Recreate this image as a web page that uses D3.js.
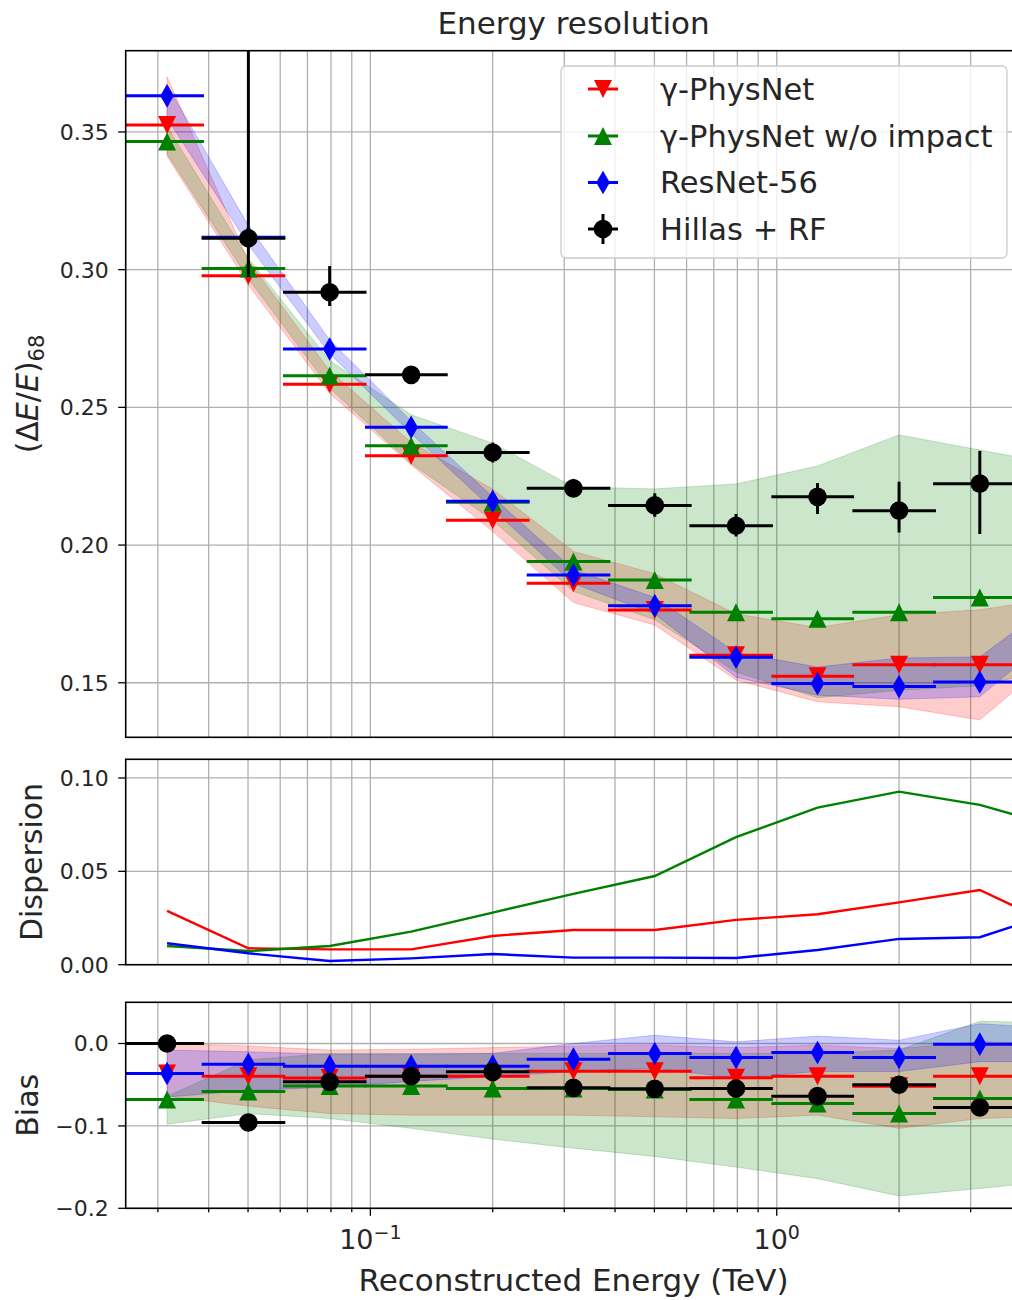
<!DOCTYPE html>
<html><head><meta charset="utf-8">
<script src="https://cdn.jsdelivr.net/npm/d3@7"></script>
<style>body{margin:0;background:#fff;} svg{display:block;font-family:"DejaVu Sans",sans-serif;}</style>
</head><body><svg id="c" width="1012" height="1300"></svg>
<script>
// ---------- data ----------
const energy  = [0.0316, 0.0501, 0.0794, 0.126, 0.2, 0.316, 0.501, 0.794, 1.26, 2.0, 3.16, 5.01];
const binLow  = [0.0251, 0.0398, 0.0631, 0.1, 0.158, 0.251, 0.398, 0.631, 1.0, 1.58, 2.51, 3.98];
const binHigh = [0.0398, 0.0631, 0.1, 0.158, 0.251, 0.398, 0.631, 1.0, 1.58, 2.51, 3.98, 6.31];

const seriesNames = ["γ-PhysNet", "γ-PhysNet w/o impact", "ResNet-56", "Hillas + RF"];

// resolution (ΔE/E)68
const resPhys   = [0.3525, 0.2978, 0.2584, 0.2324, 0.209, 0.1861, 0.1764, 0.160, 0.1524, 0.1565, 0.1565, null];
const resNoImp  = [0.3465, 0.3004, 0.2615, 0.2361, 0.2155, 0.194, 0.1873, 0.1756, 0.1732, 0.1756, 0.181, null];
const resResNet = [0.3631, 0.3118, 0.2712, 0.2428, 0.2159, 0.1891, 0.178, 0.1593, 0.1497, 0.1486, 0.1503, null];
const resHillas   = [null, 0.3114, 0.2918, 0.2618, 0.2336, 0.2206, 0.2144, 0.207, 0.2175, 0.2125, 0.2223, null];
const resHillasHi = [null, 0.40, 0.3013, 0.265, 0.2372, 0.224, 0.2188, 0.2113, 0.2225, 0.223, 0.2342, null];
const resHillasLo = [null, 0.2973, 0.2868, 0.259, 0.230, 0.2175, 0.2103, 0.2031, 0.2113, 0.2046, 0.204, null];

// resolution bands
const resPhysHi   = [0.370, 0.3032, 0.2633, 0.2373, 0.2203, 0.1977, 0.1896, 0.175, 0.1701, 0.1747, 0.1765, 0.181];
const resPhysLo   = [0.3412, 0.2944, 0.2551, 0.2291, 0.2049, 0.1791, 0.171, 0.151, 0.1431, 0.1413, 0.1365, 0.1613];
const resNoImpHi  = [0.352, 0.304, 0.267, 0.2473, 0.237, 0.2211, 0.2204, 0.2222, 0.2287, 0.240, 0.2345, 0.229];
const resNoImpLo  = [0.342, 0.2967, 0.257, 0.2296, 0.209, 0.1832, 0.1729, 0.1539, 0.1446, 0.1473, 0.1489, 0.1557];
const resResNetHi = [0.367, 0.316, 0.2745, 0.245, 0.2175, 0.191, 0.181, 0.161, 0.1557, 0.159, 0.1594, 0.1812];
const resResNetLo = [0.355, 0.309, 0.2695, 0.2405, 0.213, 0.186, 0.175, 0.152, 0.1455, 0.144, 0.1449, 0.1695];

// dispersion
const dispPhys   = [0.0288, 0.0088, 0.0082, 0.0082, 0.0154, 0.0186, 0.0186, 0.024, 0.027, 0.0334, 0.040, 0.0196];
const dispNoImp  = [0.010, 0.0073, 0.010, 0.0177, 0.0279, 0.0379, 0.0475, 0.0683, 0.0841, 0.0927, 0.0856, 0.0733];
const dispResNet = [0.0115, 0.0061, 0.002, 0.0034, 0.0057, 0.0038, 0.0038, 0.0036, 0.0079, 0.0138, 0.0147, 0.029];

// bias
const biasPhys   = [-0.0364, -0.0396, -0.042, -0.0396, -0.0396, -0.0336, -0.0336, -0.0416, -0.0396, -0.052, -0.0396, null];
const biasNoImp  = [-0.0679, -0.0582, -0.0517, -0.0517, -0.0546, -0.0546, -0.0558, -0.0679, -0.0727, -0.0848, -0.0667, null];
const biasResNet = [-0.0364, -0.0251, -0.0275, -0.0275, -0.0275, -0.019, -0.0121, -0.017, -0.0109, -0.017, -0.0008, null];
const biasHillas = [0.0, -0.0958, -0.0465, -0.0396, -0.0344, -0.0538, -0.055, -0.0546, -0.0639, -0.050, -0.0776, null];

const biasPhysHi   = [0.000, -0.003, -0.008, -0.007, -0.005, -0.003, -0.002, -0.005, -0.002, -0.006, 0.002, 0.000];
const biasPhysLo   = [-0.064, -0.076, -0.085, -0.087, -0.087, -0.087, -0.089, -0.091, -0.087, -0.103, -0.091, -0.088];
const biasNoImpHi  = [-0.064, -0.020, -0.012, -0.012, -0.012, -0.012, -0.012, -0.012, -0.012, -0.008, 0.027, 0.025];
const biasNoImpLo  = [-0.098, -0.085, -0.091, -0.103, -0.116, -0.127, -0.137, -0.150, -0.164, -0.185, -0.176, -0.166];
const biasResNetHi = [-0.008, -0.010, -0.013, -0.013, -0.012, 0.000, 0.010, 0.002, 0.009, 0.004, 0.024, 0.018];
const biasResNetLo = [-0.065, -0.057, -0.053, -0.046, -0.040, -0.034, -0.030, -0.042, -0.034, -0.034, -0.022, -0.022];

// ticks
const xDomain = [0.025, 4];
const xMajorTicks = [0.1, 1];
const xMajorExp = ["−1", "0"];
const resTicks = [0.15, 0.20, 0.25, 0.30, 0.35];
const resTickLabels = ["0.15", "0.20", "0.25", "0.30", "0.35"];
const dispTicks = [0.0, 0.05, 0.10];
const dispTickLabels = ["0.00", "0.05", "0.10"];
const biasTicks = [-0.2, -0.1, 0.0];
const biasTickLabels = ["−0.2", "−0.1", "0.0"];

// ---------- drawing ----------
const svg = d3.select("#c");
const X0 = 125.7, X1 = 1021.4;
const x = d3.scaleLog().domain(xDomain).range([X0, X1]);
const colors = ["#ff0000", "#008000", "#0000ff", "#000000"];
const markers = ["tridown", "triup", "thindiamond", "circle"];

const panels = {
  res:  {top: 50.7, bottom: 737.3, y: d3.scaleLinear().domain([0.1302, 0.3795]).range([737.3, 50.7])},
  disp: {top: 759.3, bottom: 964.7, y: d3.scaleLinear().domain([0, 0.110]).range([964.7, 759.3])},
  bias: {top: 1002.3, bottom: 1208.3, y: d3.scaleLinear().domain([-0.2, 0.05]).range([1208.3, 1002.3])}
};

const defs = svg.append("defs");
Object.entries(panels).forEach(([k, p]) => {
  defs.append("clipPath").attr("id", "clip-" + k).append("rect")
    .attr("x", X0).attr("y", p.top).attr("width", X1 - X0).attr("height", p.bottom - p.top);
});

function markerPath(type, cx, cy) {
  const p = d3.path();
  if (type === "tridown") {
    p.moveTo(cx - 9, cy - 9); p.lineTo(cx + 9, cy - 9); p.lineTo(cx, cy + 9); p.closePath();
  } else if (type === "triup") {
    p.moveTo(cx - 9, cy + 9); p.lineTo(cx + 9, cy + 9); p.lineTo(cx, cy - 9); p.closePath();
  } else if (type === "thindiamond") {
    p.moveTo(cx, cy - 11.8); p.lineTo(cx + 6.8, cy); p.lineTo(cx, cy + 11.8); p.lineTo(cx - 6.8, cy); p.closePath();
  } else {
    p.arc(cx, cy, 9.3, 0, 2 * Math.PI);
  }
  return p.toString();
}

function drawFrame(p, ticks, labels) {
  const g = svg.append("g");
  g.selectAll(".vg").data(x.ticks()).join("line")
    .attr("x1", d => x(d)).attr("x2", d => x(d))
    .attr("y1", p.top).attr("y2", p.bottom)
    .attr("stroke", "#b0b0b0").attr("stroke-width", 1.3);
  g.selectAll(".hg").data(ticks).join("line")
    .attr("x1", X0).attr("x2", X1)
    .attr("y1", d => p.y(d)).attr("y2", d => p.y(d))
    .attr("stroke", "#b0b0b0").attr("stroke-width", 1.3);
  g.selectAll(".yt").data(ticks).join("line")
    .attr("x1", X0 - 7.5).attr("x2", X0)
    .attr("y1", d => p.y(d)).attr("y2", d => p.y(d))
    .attr("stroke", "#000").attr("stroke-width", 1.3);
  g.selectAll(".yl").data(ticks).join("text")
    .attr("x", X0 - 17).attr("y", d => p.y(d))
    .attr("dy", "0.36em").attr("text-anchor", "end")
    .attr("font-size", 22).attr("fill", "#262626")
    .text((d, i) => labels[i]);
  return g;
}

function drawBorder(p) {
  svg.append("rect").attr("x", X0).attr("y", p.top)
    .attr("width", X1 - X0).attr("height", p.bottom - p.top)
    .attr("fill", "none").attr("stroke", "#000").attr("stroke-width", 1.6);
}

function drawBand(p, clipId, lo, hi, color) {
  const area = d3.area()
    .defined((d, i) => lo[i] != null && hi[i] != null)
    .x((d, i) => x(energy[i]))
    .y0((d, i) => p.y(lo[i]))
    .y1((d, i) => p.y(hi[i]));
  svg.append("path").datum(energy)
    .attr("clip-path", `url(#${clipId})`)
    .attr("d", area)
    .attr("fill", color).attr("fill-opacity", 0.2)
    .attr("stroke", color).attr("stroke-opacity", 0.2).attr("stroke-width", 1);
}

function drawErrSeries(p, clipId, vals, color, marker, hiArr, loArr) {
  const g = svg.append("g").attr("clip-path", `url(#${clipId})`);
  const idx = energy.map((e, i) => i).filter(i => vals[i] != null);
  g.selectAll(".xe").data(idx).join("line")
    .attr("x1", i => x(energy[i] - (binHigh[i] - binLow[i]) / 2))
    .attr("x2", i => x(energy[i] + (binHigh[i] - binLow[i]) / 2))
    .attr("y1", i => p.y(vals[i])).attr("y2", i => p.y(vals[i]))
    .attr("stroke", color).attr("stroke-width", 3);
  if (hiArr) {
    g.selectAll(".ye").data(idx).join("line")
      .attr("x1", i => x(energy[i])).attr("x2", i => x(energy[i]))
      .attr("y1", i => p.y(loArr[i])).attr("y2", i => p.y(hiArr[i]))
      .attr("stroke", color).attr("stroke-width", 3);
  }
  g.selectAll(".mk").data(idx).join("path")
    .attr("d", i => markerPath(marker, x(energy[i]), p.y(vals[i])))
    .attr("fill", color);
}

function drawLine(p, clipId, vals, color) {
  const line = d3.line()
    .defined((d, i) => vals[i] != null)
    .x((d, i) => x(energy[i])).y((d, i) => p.y(vals[i]));
  svg.append("path").datum(energy)
    .attr("clip-path", `url(#${clipId})`)
    .attr("d", line).attr("fill", "none")
    .attr("stroke", color).attr("stroke-width", 2.4);
}

// ---- top panel ----
const P1 = panels.res;
drawFrame(P1, resTicks, resTickLabels);
drawBand(P1, "clip-res", resPhysLo, resPhysHi, colors[0]);
drawBand(P1, "clip-res", resNoImpLo, resNoImpHi, colors[1]);
drawBand(P1, "clip-res", resResNetLo, resResNetHi, colors[2]);
drawErrSeries(P1, "clip-res", resPhys, colors[0], markers[0]);
drawErrSeries(P1, "clip-res", resNoImp, colors[1], markers[1]);
drawErrSeries(P1, "clip-res", resResNet, colors[2], markers[2]);
drawErrSeries(P1, "clip-res", resHillas, colors[3], markers[3], resHillasHi, resHillasLo);
drawBorder(P1);

// ---- dispersion panel ----
const P2 = panels.disp;
drawFrame(P2, dispTicks, dispTickLabels);
drawLine(P2, "clip-disp", dispPhys, colors[0]);
drawLine(P2, "clip-disp", dispNoImp, colors[1]);
drawLine(P2, "clip-disp", dispResNet, colors[2]);
drawBorder(P2);

// ---- bias panel ----
const P3 = panels.bias;
drawFrame(P3, biasTicks, biasTickLabels);
drawBand(P3, "clip-bias", biasPhysLo, biasPhysHi, colors[0]);
drawBand(P3, "clip-bias", biasNoImpLo, biasNoImpHi, colors[1]);
drawBand(P3, "clip-bias", biasResNetLo, biasResNetHi, colors[2]);
drawErrSeries(P3, "clip-bias", biasPhys, colors[0], markers[0]);
drawErrSeries(P3, "clip-bias", biasNoImp, colors[1], markers[1]);
drawErrSeries(P3, "clip-bias", biasResNet, colors[2], markers[2]);
drawErrSeries(P3, "clip-bias", biasHillas, colors[3], markers[3]);
drawBorder(P3);

// x ticks (bottom panel only)
const xt = svg.append("g");
xt.selectAll(".mt").data(x.ticks()).join("line")
  .attr("x1", d => x(d)).attr("x2", d => x(d))
  .attr("y1", P3.bottom).attr("y2", d => P3.bottom + (xMajorTicks.includes(d) ? 7.5 : 4))
  .attr("stroke", "#000").attr("stroke-width", 1.3);
xMajorTicks.forEach((v, i) => {
  const t = xt.append("text").attr("x", x(v)).attr("y", 1249)
    .attr("text-anchor", "middle").attr("font-size", 27).attr("fill", "#262626");
  t.append("tspan").text("10");
  t.append("tspan").attr("font-size", 19).attr("dy", -10).text(xMajorExp[i]);
});

// titles / labels
const cx = (X0 + X1) / 2;
svg.append("text").attr("x", cx).attr("y", 34).attr("text-anchor", "middle")
  .attr("font-size", 31).attr("fill", "#262626").text("Energy resolution");
svg.append("text").attr("x", cx).attr("y", 1291).attr("text-anchor", "middle")
  .attr("font-size", 31).attr("fill", "#262626").text("Reconstructed Energy (TeV)");

function yLabel(xb, yc) {
  return svg.append("text").attr("transform", `translate(${xb},${yc}) rotate(-90)`)
    .attr("text-anchor", "middle").attr("font-size", 30).attr("fill", "#262626");
}
const yl1 = yLabel(38, (P1.top + P1.bottom) / 2);
yl1.append("tspan").text("(Δ");
yl1.append("tspan").attr("font-style", "italic").text("E");
yl1.append("tspan").text("/");
yl1.append("tspan").attr("font-style", "italic").text("E");
yl1.append("tspan").text(")");
yl1.append("tspan").attr("font-size", 21).attr("dy", 6).text("68");
yLabel(42, (P2.top + P2.bottom) / 2).text("Dispersion");
yLabel(37.5, (P3.top + P3.bottom) / 2).text("Bias");

// legend
const lg = svg.append("g");
lg.append("rect").attr("x", 561).attr("y", 66).attr("width", 446).attr("height", 192)
  .attr("rx", 5).attr("fill", "#fff").attr("fill-opacity", 0.8)
  .attr("stroke", "#cccccc").attr("stroke-width", 1.3);
const rowY = [89, 136, 182.5, 229];
seriesNames.forEach((name, i) => {
  const yy = rowY[i];
  lg.append("line").attr("x1", 588).attr("x2", 618).attr("y1", yy).attr("y2", yy)
    .attr("stroke", colors[i]).attr("stroke-width", 3);
  if (i === 3) {
    lg.append("line").attr("x1", 603).attr("x2", 603).attr("y1", yy - 15).attr("y2", yy + 15)
      .attr("stroke", colors[i]).attr("stroke-width", 3);
  }
  lg.append("path").attr("d", markerPath(markers[i], 603, yy)).attr("fill", colors[i]);
  lg.append("text").attr("x", 660).attr("y", yy + 10.5).attr("font-size", 30.5)
    .attr("fill", "#262626").text(name);
});
</script>
</body></html>
